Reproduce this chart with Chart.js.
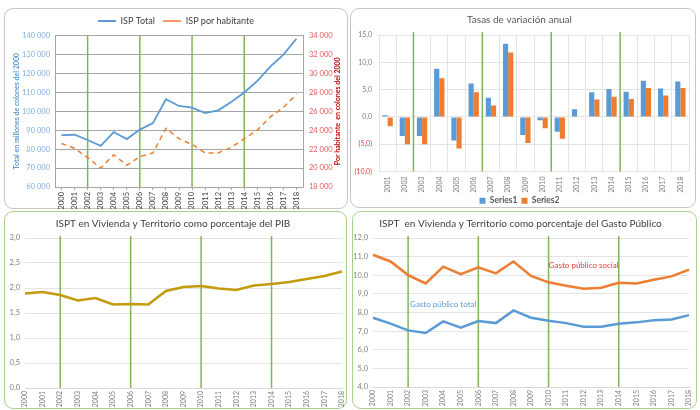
<!DOCTYPE html>
<html>
<head>
<meta charset="utf-8">
<script src="https://cdn.jsdelivr.net/npm/chart.js@4.4.1/dist/chart.umd.min.js"></script>
<style>
  body { margin: 0; background: #fff; width: 700px; height: 410px; overflow: hidden; position: relative; }
  .panel { position: absolute; box-sizing: border-box; border-radius: 9px; }
  .grey { border: 1px solid #c6c6c6; }
  .green { border: 1px solid #a9d18e; }
  canvas { position: absolute; }
</style>
</head>
<body>
<div class="panel grey" style="left:4px;top:8px;width:344px;height:201px"></div>
<div class="panel grey" style="left:350px;top:8px;width:346px;height:200px"></div>
<div class="panel green" style="left:4px;top:211px;width:343px;height:198px"></div>
<div class="panel green" style="left:352px;top:211px;width:345px;height:198px"></div>
<canvas id="c1" style="left:4px;top:8px"></canvas>
<canvas id="c2" style="left:350px;top:8px"></canvas>
<canvas id="c3" style="left:4px;top:211px"></canvas>
<canvas id="c4" style="left:352px;top:211px"></canvas>
<script>
// years
const years = ['2000', '2001', '2002', '2003', '2004', '2005', '2006', '2007', '2008', '2009',
  '2010', '2011', '2012', '2013', '2014', '2015', '2016', '2017', '2018'];
const years2 = years.slice(1);
const markYears = ['2002', '2006', '2010', '2014'];

// chart 1 - ISP
const ispTotal = [87400, 87600, 84800, 81700, 89000, 85300, 90300, 93700, 106300, 102800,
  101900, 99000, 100500, 104900, 109900, 116000, 123600, 129900, 138300];
const ispHab = [22600, 22100, 21100, 20000, 21400, 20300, 21200, 21600, 24200, 23100,
  22500, 21600, 21600, 22200, 23100, 24000, 25400, 26400, 27800];

// chart 2 - tasas de variacion
const series1 = [0.3, -3.5, -3.5, 8.8, -4.3, 6.1, 3.5, 13.4, -3.3, -0.6,
  -2.7, 1.4, 4.5, 5.1, 4.6, 6.6, 5.2, 6.5];
const series2 = [-1.7, -5.0, -5.0, 7.1, -5.8, 4.5, 2.1, 11.8, -4.8, -2.1,
  -4.0, 0.0, 3.2, 3.7, 3.3, 5.3, 3.9, 5.3];

// chart 3 - % del PIB
const pctPib = [1.89, 1.92, 1.86, 1.75, 1.80, 1.67, 1.68, 1.67, 1.94, 2.02,
  2.04, 1.99, 1.96, 2.05, 2.08, 2.12, 2.18, 2.24, 2.33];

// chart 4 - % del gasto publico
const gastoSocial = [11.10, 10.74, 10.01, 9.56, 10.46, 10.06, 10.42, 10.10, 10.74, 9.96,
  9.62, 9.44, 9.28, 9.33, 9.60, 9.56, 9.76, 9.94, 10.30];
const gastoTotal = [7.72, 7.40, 7.04, 6.90, 7.52, 7.19, 7.54, 7.43, 8.11, 7.72,
  7.56, 7.43, 7.24, 7.24, 7.40, 7.47, 7.58, 7.63, 7.86];

Chart.defaults.font.family = 'Lato, "Liberation Sans", sans-serif';
Chart.defaults.animation = false;
Chart.defaults.responsive = false;
Chart.defaults.plugins.tooltip.enabled = false;

const BLUE = '#5b9bd5';
const ORANGE = '#ed7d31';
const GREEN = '#7fb55a';

const miles = v => String(v).replace(/\B(?=(\d{3})+(?!\d))/g, ' ');
const coma = v => v.toFixed(1).replace('.', ',');

// vertical green lines at the marked years
const greenLines = {
  id: 'greenLines',
  beforeDatasetsDraw(chart, args, opts) {
    const x = chart.scales.x, a = chart.chartArea, ctx = chart.ctx;
    ctx.save();
    ctx.strokeStyle = GREEN;
    ctx.lineWidth = 1.5;
    markYears.forEach(y => {
      const i = chart.data.labels.indexOf(y);
      let px = x.getPixelForValue(i);
      if (opts.between) px = (px + x.getPixelForValue(i + 1)) / 2;
      ctx.beginPath();
      ctx.moveTo(px, a.top - (opts.up || 0));
      ctx.lineTo(px, a.bottom);
      ctx.stroke();
    });
    ctx.restore();
  }
};

function size(id, w, h) {
  const c = document.getElementById(id);
  c.width = w; c.height = h;
  return c;
}

// x axis of the two bottom charts: fixed height, no extra side padding
const bottomX = h => s => { s.height = h; s.paddingLeft = 0; s.paddingRight = 0; };

// ---------- chart 1
new Chart(size('c1', 344, 201), {
  type: 'line',
  data: {
    labels: years,
    datasets: [{
      label: 'ISP Total',
      data: ispTotal,
      yAxisID: 'y',
      borderColor: BLUE,
      borderWidth: 1.8,
      pointRadius: 0
    }, {
      label: 'ISP por habitante',
      data: ispHab,
      yAxisID: 'y1',
      borderColor: ORANGE,
      borderWidth: 1.5,
      borderDash: [5, 4],
      pointRadius: 0
    }]
  },
  options: {
    layout: { padding: { top: 0, right: 0, left: 0, bottom: 0 } },
    plugins: {
      greenLines: {},
      legend: {
        position: 'top',
        labels: {
          usePointStyle: true, pointStyle: 'line', pointStyleWidth: 18,
          padding: 8.5, color: '#404040', font: { size: 9 }
        }
      }
    },
    scales: {
      x: {
        offset: true,
        grid: { drawOnChartArea: false, tickLength: 3, color: '#a6a6a6' },
        border: { color: '#a6a6a6' },
        ticks: { font: { size: 7.5 }, color: '#404040', minRotation: 90, maxRotation: 90, autoSkip: false, padding: 2 },
        afterFit: s => { s.height = 22; }
      },
      y: {
        position: 'left', min: 60000, max: 140000,
        ticks: { stepSize: 10000, callback: miles, color: '#7fb0dc', font: { size: 7.5 }, padding: 5 },
        grid: { color: '#a6a6a6', drawTicks: false },
        border: { color: '#a6a6a6' },
        title: { display: true, text: 'Total en millones de colones del 2000', color: BLUE,
          font: { size: 7, weight: 'bold' }, padding: { top: 9, bottom: 0 } },
        afterFit: s => { s.width = 51; }
      },
      y1: {
        position: 'right', min: 18000, max: 34000,
        ticks: { stepSize: 2000, callback: miles, color: '#e05a5a', font: { size: 7.5 }, padding: 6 },
        grid: { drawOnChartArea: false, drawTicks: false },
        border: { color: '#a6a6a6' },
        afterFit: s => { s.width = 45; }
      }
    }
  },
  plugins: [greenLines, {
    id: 'rightTitle',
    afterDraw(chart) {
      const ctx = chart.ctx, a = chart.chartArea;
      ctx.save();
      ctx.translate(334, (a.top + a.bottom) / 2);
      ctx.rotate(-Math.PI / 2);
      ctx.fillStyle = '#c00000';
      ctx.font = 'bold 7px Lato, "Liberation Sans", sans-serif';
      ctx.textAlign = 'center';
      ctx.textBaseline = 'middle';
      ctx.fillText('Por habitante  en colones del 2000', 0, 0);
      ctx.restore();
    }
  }]
});

// ---------- chart 2
new Chart(size('c2', 346, 200), {
  type: 'bar',
  data: {
    labels: years2,
    datasets: [
      { label: 'Series1', data: series1, backgroundColor: BLUE },
      { label: 'Series2', data: series2, backgroundColor: ORANGE }
    ]
  },
  options: {
    categoryPercentage: 0.6,
    barPercentage: 1,
    layout: { padding: { right: 7, bottom: -7 } },
    plugins: {
      greenLines: { between: true, up: 3 },
      title: { display: true, text: 'Tasas de variación anual', color: '#595959',
        font: { size: 10, weight: 'normal' }, padding: { top: 6, bottom: 9 } },
      legend: {
        position: 'bottom',
        labels: { boxWidth: 6, boxHeight: 6, padding: 4, color: '#595959', font: { size: 8.5, weight: 'bold' } }
      }
    },
    scales: {
      x: {
        grid: { color: '#e3e3e3', drawTicks: false },
        border: { color: '#e3e3e3' },
        ticks: { font: { size: 7 }, color: '#7f7f7f', minRotation: 90, maxRotation: 90, autoSkip: false, padding: 5 },
        afterFit: s => { s.height = 21; }
      },
      y: {
        min: -10, max: 15,
        ticks: { stepSize: 5, font: { size: 7 }, padding: 7,
          color: c => c.tick.value < 0 ? '#e04040' : '#7f7f7f',
          callback: v => v < 0 ? '(' + coma(-v) + ')' : coma(v) },
        grid: { color: '#e3e3e3', drawTicks: false },
        border: { color: '#e3e3e3' },
        afterFit: s => { s.width = 29; }
      }
    }
  },
  plugins: [greenLines]
});

// ---------- chart 3
new Chart(size('c3', 343, 198), {
  type: 'line',
  data: {
    labels: years,
    datasets: [{ label: 'PIB', data: pctPib, borderColor: '#c49b0c', borderWidth: 2.5, pointRadius: 0 }]
  },
  options: {
    layout: { padding: { right: 5 } },
    plugins: {
      greenLines: { up: 2 },
      legend: { display: false },
      title: { display: true, text: 'ISPT en Vivienda y Territorio como porcentaje del PIB', color: '#404040',
        font: { size: 10, weight: 'normal' }, padding: { top: 7, bottom: 8 } }
    },
    scales: {
      x: {
        offset: false,
        grid: { display: false, drawTicks: false },
        border: { color: '#d9d9d9' },
        ticks: { font: { size: 7 }, color: '#7f7f7f', minRotation: 90, maxRotation: 90, autoSkip: false, padding: 3 },
        afterFit: bottomX(21)
      },
      y: {
        min: 0, max: 3,
        ticks: { stepSize: 0.5, callback: coma, font: { size: 7.5 }, color: '#7f7f7f', padding: 5 },
        grid: { color: '#e3e3e3', drawTicks: false },
        border: { display: false },
        afterFit: s => { s.width = 21; }
      }
    }
  },
  plugins: [greenLines]
});

// ---------- chart 4
const notes4 = [
  { text: 'Gasto público social', year: '2012', value: 10.55, color: '#e8383d' },
  { text: 'Gasto público total', year: '2004', value: 8.45, color: BLUE }
];

new Chart(size('c4', 345, 198), {
  type: 'line',
  data: {
    labels: years,
    datasets: [
      { label: 'Gasto público social', data: gastoSocial, borderColor: ORANGE, borderWidth: 2.5, pointRadius: 0 },
      { label: 'Gasto público total', data: gastoTotal, borderColor: BLUE, borderWidth: 2.5, pointRadius: 0 }
    ]
  },
  options: {
    layout: { padding: { right: 8 } },
    plugins: {
      greenLines: { up: 2 },
      legend: { display: false },
      title: { display: true, text: 'ISPT  en Vivienda y Territorio como porcentaje del Gasto Público', color: '#404040',
        font: { size: 10, weight: 'normal' }, padding: { top: 7, bottom: 8 } }
    },
    scales: {
      x: {
        offset: false,
        grid: { display: false, drawTicks: false },
        border: { color: '#d9d9d9' },
        ticks: { font: { size: 7 }, color: '#7f7f7f', minRotation: 90, maxRotation: 90, autoSkip: false, padding: 3 },
        afterFit: bottomX(22)
      },
      y: {
        min: 4, max: 12,
        ticks: { stepSize: 1, callback: coma, font: { size: 7.5 }, color: '#7f7f7f', padding: 5 },
        grid: { color: '#e3e3e3', drawTicks: false },
        border: { display: false },
        afterFit: s => { s.width = 21; }
      }
    }
  },
  plugins: [greenLines, {
    id: 'notes',
    afterDatasetsDraw(chart) {
      const ctx = chart.ctx, x = chart.scales.x, y = chart.scales.y;
      ctx.save();
      ctx.font = '8px Lato, "Liberation Sans", sans-serif';
      ctx.textAlign = 'center';
      ctx.textBaseline = 'middle';
      notes4.forEach(n => {
        ctx.fillStyle = n.color;
        ctx.fillText(n.text, x.getPixelForValue(years.indexOf(n.year)), y.getPixelForValue(n.value));
      });
      ctx.restore();
    }
  }]
});
</script>
</body>
</html>
